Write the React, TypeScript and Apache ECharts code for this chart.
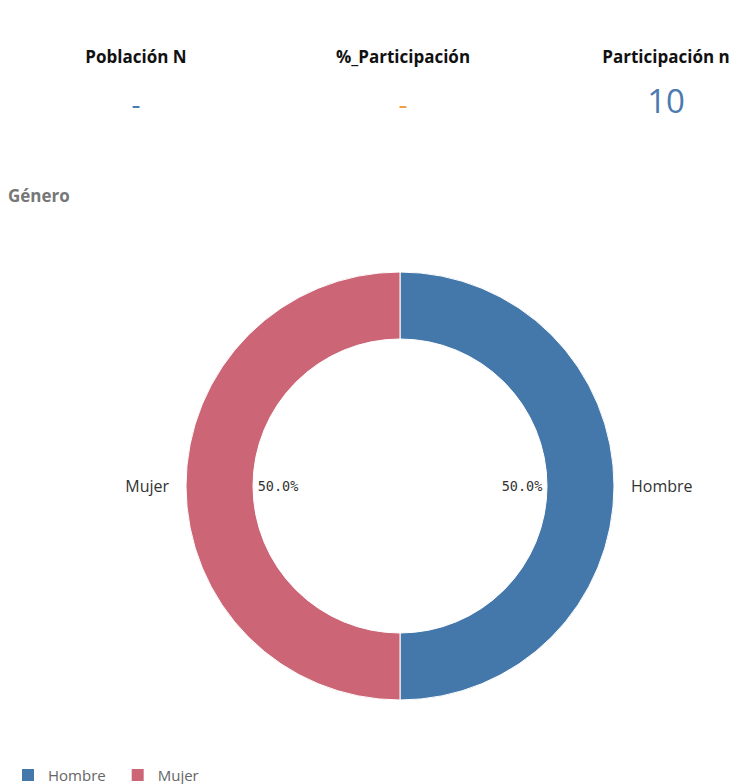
import React, { useEffect, useRef } from "react";
import * as echarts from "echarts";

const kpiLabels = ["Población N", "%_Participación", "Participación n"];
const kpiValues = ["-", "-", "10"];
const kpiColors = ["#4a7ab0", "#f0a040", "#4a7ab0"];
const categories = ["Hombre", "Mujer"];
const counts = [5, 5];
const sliceColors = ["#4477AA", "#CC6677"];

export default function App() {
  const ref = useRef<HTMLDivElement>(null);
  useEffect(() => {
    if (!ref.current) return;
    const chart = echarts.init(ref.current, null, { renderer: "svg" });
    const kpiX = [136, 403, 666];
    const graphics: any[] = [];
    kpiLabels.forEach((l, i) => {
      graphics.push({
        type: "text",
        x: kpiX[i],
        y: 56,
        style: {
          text: l,
          fontFamily: "Open Sans",
          fontWeight: "bold",
          fontSize: 17,
          fill: "#111",
          align: "center",
          verticalAlign: "middle",
        },
      });
      graphics.push({
        type: "text",
        x: kpiX[i],
        y: kpiValues[i] === "-" ? 103 : 100,
        style: {
          text: kpiValues[i],
          fontFamily: "Open Sans",
          fontSize: kpiValues[i] === "-" ? 28 : 33,
          fill: kpiColors[i],
          align: "center",
          verticalAlign: "middle",
        },
      });
    });
    const data = categories.map((c, i) => ({
      name: c,
      value: counts[i],
      itemStyle: { color: sliceColors[i] },
    }));
    chart.setOption({
      animation: false,
      title: {
        text: "Género",
        left: 8,
        top: 187,
        padding: 0,
        textStyle: { fontFamily: "Open Sans", fontSize: 17, fontWeight: "bold", color: "#777" },
      },
      legend: {
        data: categories.map((c, i) => ({ name: c, itemStyle: { color: sliceColors[i] } })),
        left: 20,
        top: 767,
        padding: 0,
        icon: "rect",
        itemWidth: 14,
        itemHeight: 14,
        itemGap: 24,
        textStyle: {
          fontFamily: "Open Sans",
          fontSize: 15,
          color: "#666",
          padding: [0, 0, 0, 8],
        },
      },
      graphic: graphics,
      series: [
        {
          type: "pie",
          name: "Género",
          center: [400, 486],
          radius: [147, 214],
          startAngle: 90,
          data,
          itemStyle: { borderColor: "#fff", borderWidth: 1 },
          label: {
            show: true,
            position: "outside",
            formatter: "{b}",
            fontFamily: "Open Sans",
            fontSize: 16,
            color: "#333",
          },
          labelLine: { show: false, length: 8, length2: 4 },
        },
        {
          type: "pie",
          name: "pct",
          center: [400, 486],
          radius: [0, 238],
          startAngle: 90,
          silent: true,
          data: categories.map((c, i) => ({ name: c, value: counts[i] })),
          itemStyle: { color: "rgba(0,0,0,0)" },
          label: {
            show: true,
            position: "inside",
            formatter: (p: any) => p.percent.toFixed(1) + "%",
            fontFamily: "DejaVu Sans Mono",
            fontSize: 13.5,
            color: "#333",
          },
          labelLine: { show: false },
          z: 3,
        },
      ],
    });
    return () => chart.dispose();
  }, []);
  return (
    <div
      ref={ref}
      style={{ position: "absolute", left: 0, top: 0, width: 734, height: 784, background: "#fff" }}
    />
  );
}
